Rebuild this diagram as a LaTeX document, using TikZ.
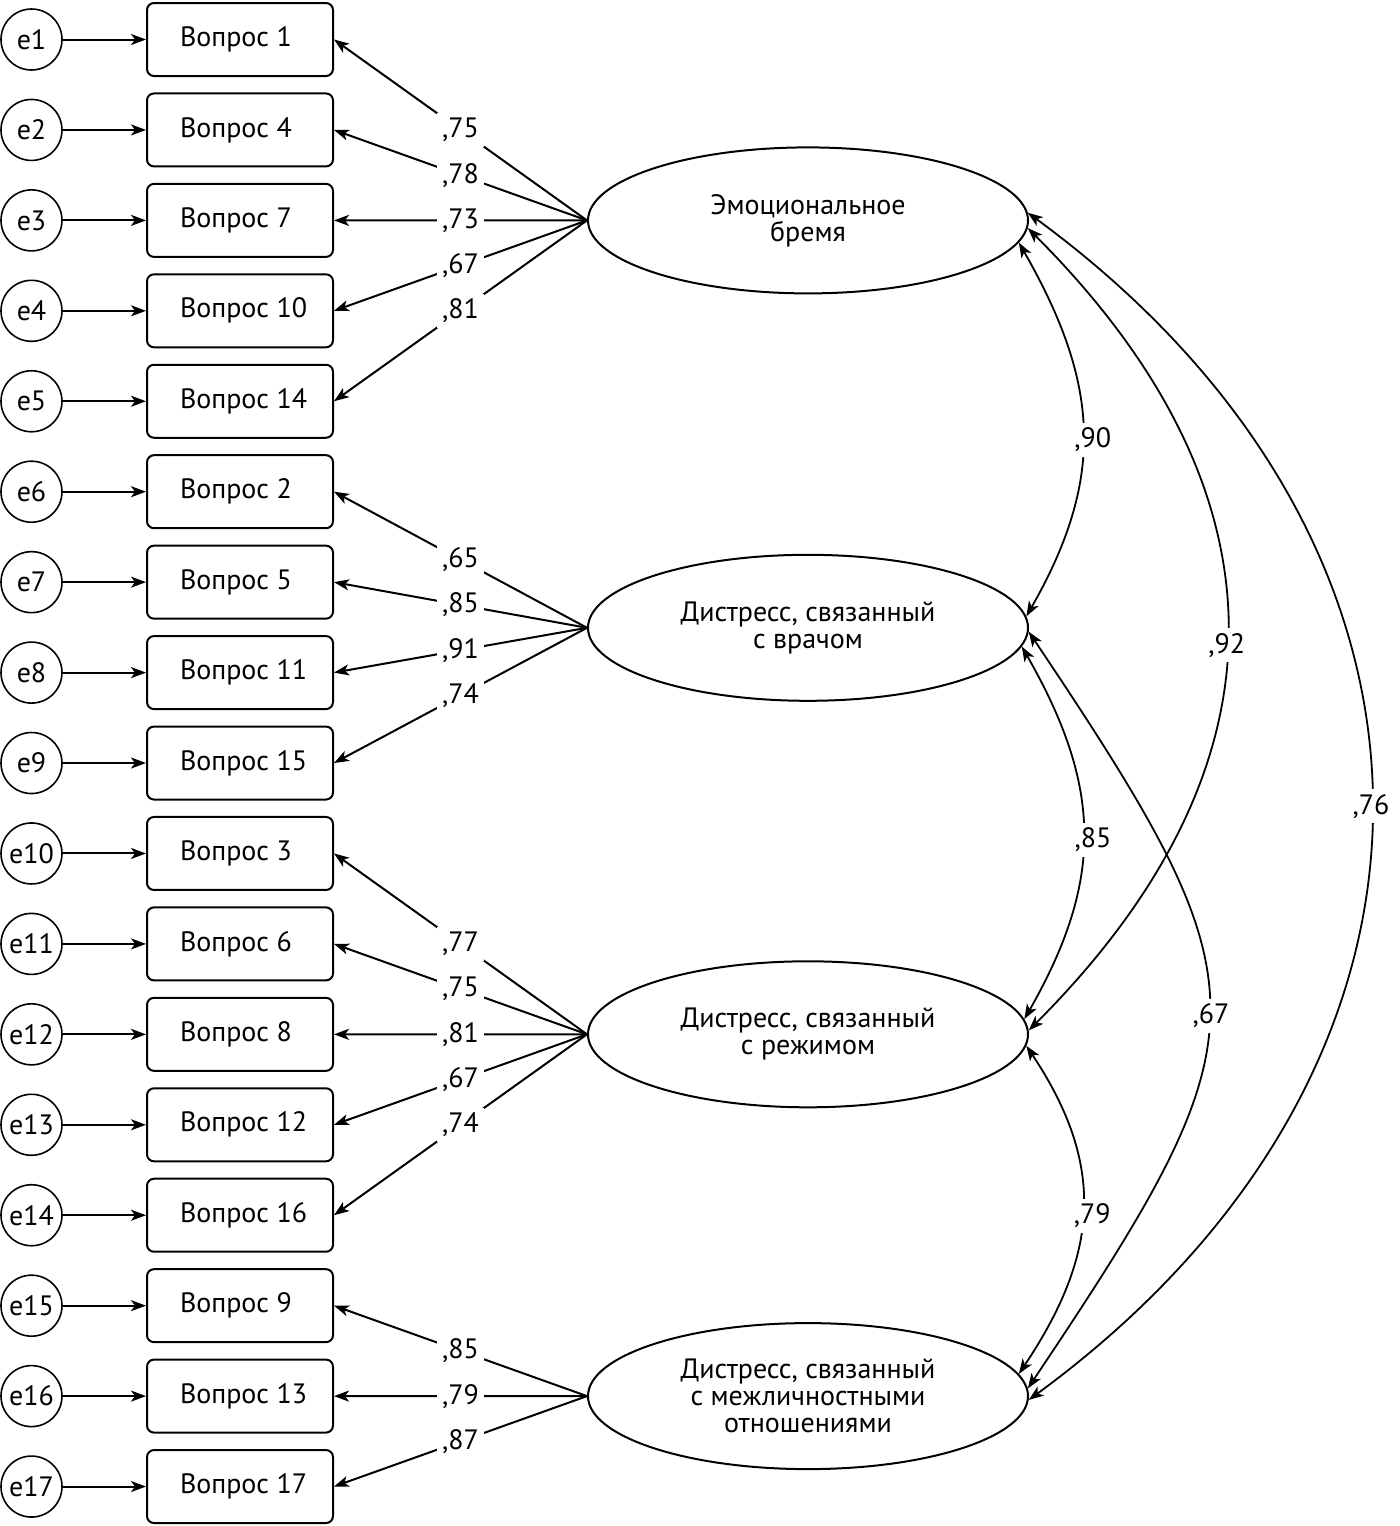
\documentclass[tikz,border=0pt]{standalone}
\usepackage{fontspec}
\setmainfont{PT Sans}
\usetikzlibrary{arrows.meta,shapes.geometric}
\begin{document}
\begin{tikzpicture}[x=0.5pt,y=-0.5pt,
  txt/.style={font=\fontsize{14pt}{13.5pt}\selectfont},
  err/.style={circle,draw,line width=0.8pt,minimum size=30.5pt,inner sep=0pt,txt},
  item/.style={draw,rounded corners=3.5pt,line width=1pt,minimum width=93pt,minimum height=36.5pt,inner sep=0pt,txt},
  lat/.style={ellipse,draw,line width=1pt,minimum width=220pt,minimum height=73pt,inner sep=0pt,align=center,txt},
  tip/.style={line width=1pt,-{Stealth[length=7.5pt,width=5.5pt,inset=2pt]}},
  both/.style={line width=0.9pt,{Stealth[length=7.5pt,width=5.5pt,inset=2pt]}-{Stealth[length=7.5pt,width=5.5pt,inset=2pt]}},
  lbl/.style={fill=white,inner sep=2.5pt,txt}
]
\useasboundingbox (0,0) rectangle (1400,1526);

% rows
\foreach \i/\q in {1/1,2/4,3/7,4/10,5/14,6/2,7/5,8/11,9/15,10/3,11/6,12/8,13/12,14/16,15/9,16/13,17/17}{
  \pgfmathsetmacro{\yy}{39.5+90.44*(\i-1)}
  \node[err] (e\i) at (31.5,\yy) {e\i};
  \node[item] (B\i) at (240,\yy) {\makebox[60pt][l]{Вопрос \q}};
  \draw[tip] (e\i) -- (B\i);
}

% latent variables
\node[lat] (E1) at (808,220.4) {Эмоциональное\\бремя};
\node[lat] (E2) at (808,627.8) {Дистресс, связанный\\с врачом};
\node[lat] (E3) at (808,1034.3) {Дистресс, связанный\\с режимом};
\node[lat] (E4) at (808,1396.1) {Дистресс, связанный\\с межличностными\\отношениями};

% loadings
\draw[tip] (E1.west) -- node[lbl]{,75} (B1.east);
\draw[tip] (E1.west) -- node[lbl]{,78} (B2.east);
\draw[tip] (E1.west) -- node[lbl]{,73} (B3.east);
\draw[tip] (E1.west) -- node[lbl]{,67} (B4.east);
\draw[tip] (E1.west) -- node[lbl]{,81} (B5.east);

\draw[tip] (E2.west) -- node[lbl]{,65} (B6.east);
\draw[tip] (E2.west) -- node[lbl]{,85} (B7.east);
\draw[tip] (E2.west) -- node[lbl]{,91} (B8.east);
\draw[tip] (E2.west) -- node[lbl]{,74} (B9.east);

\draw[tip] (E3.west) -- node[lbl]{,77} (B10.east);
\draw[tip] (E3.west) -- node[lbl]{,75} (B11.east);
\draw[tip] (E3.west) -- node[lbl]{,81} (B12.east);
\draw[tip] (E3.west) -- node[lbl]{,67} (B13.east);
\draw[tip] (E3.west) -- node[lbl]{,74} (B14.east);

\draw[tip] (E4.west) -- node[lbl]{,85} (B15.east);
\draw[tip] (E4.west) -- node[lbl]{,79} (B16.east);
\draw[tip] (E4.west) -- node[lbl]{,87} (B17.east);

% covariances
\draw[both] (E1.-6.9) .. controls +(80,140) and +(80,-140) .. node[lbl,pos=0.53,xshift=5pt]{,90} (E2.3.7);
\draw[both] (E2.-5.4) .. controls +(80,140) and +(80,-140) .. node[lbl,pos=0.52,xshift=5pt]{,85} (E3.4.8);
\draw[both] (E3.-3.4) .. controls +(80,120) and +(80,-120) .. node[lbl,pos=0.52,xshift=5pt]{,79} (E4.6.6);
\draw[both] (E1.-2.4) .. controls +(265,265) and +(265,-265) .. node[lbl,pos=0.52]{,92} (E3.1.8);
\draw[both] (E2.-1.3) .. controls +(241,360) and +(241,-360) .. node[lbl,pos=0.51,xshift=1pt]{,67} (E4.2.4);
\draw[both] (E1.2.1) .. controls +(457,335) and +(457,-335) .. node[lbl]{,76} (E4.-1.0);
\end{tikzpicture}
\end{document}
